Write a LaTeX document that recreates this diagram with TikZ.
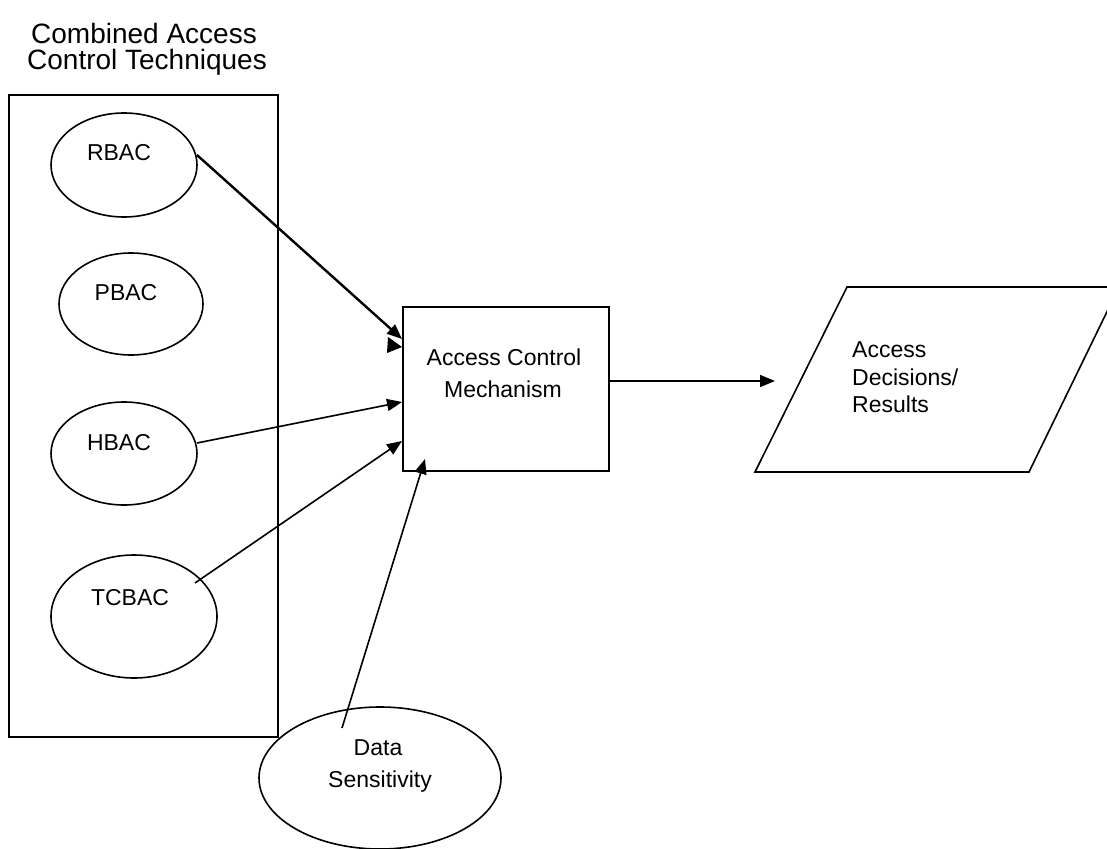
\documentclass[tikz,border=0pt]{standalone}
\usepackage{fontspec}
\setmainfont{Liberation Sans}
\usetikzlibrary{arrows.meta,shapes.geometric}
\begin{document}
\begin{tikzpicture}[x=1pt,y=-1pt,
  every node/.style={font=\fontsize{23}{27}\selectfont},
  ell/.style={draw,ellipse,line width=1.6pt,inner sep=0pt},
  lbl/.style={anchor=base,inner sep=0pt},
  conn/.style={line width=1.6pt,-{Triangle[length=15pt,width=12pt]}}]
\useasboundingbox (0,0) rectangle (1107,848);
\clip (0,0) rectangle (1107,848);
% title
\node[lbl,font=\fontsize{28}{28}\selectfont] (t1) at (144,44) {Combined Access};
\node[lbl,font=\fontsize{28}{28}\selectfont] (t2) at (147,70) {Control Techniques};
% group frame
\node[draw,line width=1.8pt,minimum width=269pt,minimum height=642pt,inner sep=0pt] (group) at (143.5,416) {};
% ellipses
\node[ell,minimum width=146pt,minimum height=104pt] (rbac) at (124,165) {};
\node[lbl] (rbacT) at (119,160) {RBAC};
\node[ell,minimum width=144pt,minimum height=102pt] (pbac) at (131,304) {};
\node[lbl] (pbacT) at (126,300) {PBAC};
\node[ell,minimum width=146pt,minimum height=103pt] (hbac) at (124,453.5) {};
\node[lbl] (hbacT) at (119,450) {HBAC};
\node[ell,minimum width=166pt,minimum height=123pt] (tcbac) at (134,616.5) {};
\node[lbl] (tcbacT) at (130,605) {TCBAC};
\node[ell,minimum width=242pt,minimum height=142pt] (data) at (380,778) {};
\node[lbl] (dataT1) at (378,755) {Data};
\node[lbl] (dataT2) at (380,787) {Sensitivity};
% mechanism box
\node[draw,line width=1.8pt,minimum width=206pt,minimum height=164pt,inner sep=0pt] (acm) at (506,389) {};
\node[lbl] (acmT1) at (504,365) {Access Control};
\node[lbl] (acmT2) at (503,397) {Mechanism};
% parallelogram
\coordinate (p1) at (847,287);
\coordinate (p2) at (1119,287);
\coordinate (p3) at (1029,472);
\coordinate (p4) at (755,472);
\draw[line width=1.6pt,line join=miter] (p1) -- (p2) -- (p3) -- (p4) -- cycle;
\node[lbl,anchor=base west] (resT1) at (852,357) {Access};
\node[lbl,anchor=base west] (resT2) at (852,385) {Decisions/};
\node[lbl,anchor=base west] (resT3) at (852,412) {Results};
% connector end points
\coordinate (rS) at (197,155);
\coordinate (rE) at (402,339);
\coordinate (hS) at (197,443);
\coordinate (hE) at (402,402);
\coordinate (tS) at (195,583);
\coordinate (tE) at (402,441);
\coordinate (dS) at (342,728);
\coordinate (dE) at (425,459);
\coordinate (mS) at (609,381);
\coordinate (mE) at (775,381);
\draw[conn,line width=2.4pt] (rS) -- (rE);
\draw[conn] (hS) -- (hE);
\draw[conn] (tS) -- (tE);
\draw[conn] (dS) -- (dE);
\draw[conn] (mS) -- (mE);
% lone arrowhead
\coordinate (a1) at (388,337);
\coordinate (a2) at (402,347);
\coordinate (a3) at (387,353);
\fill (a1) -- (a2) -- (a3) -- cycle;
\end{tikzpicture}
\end{document}
